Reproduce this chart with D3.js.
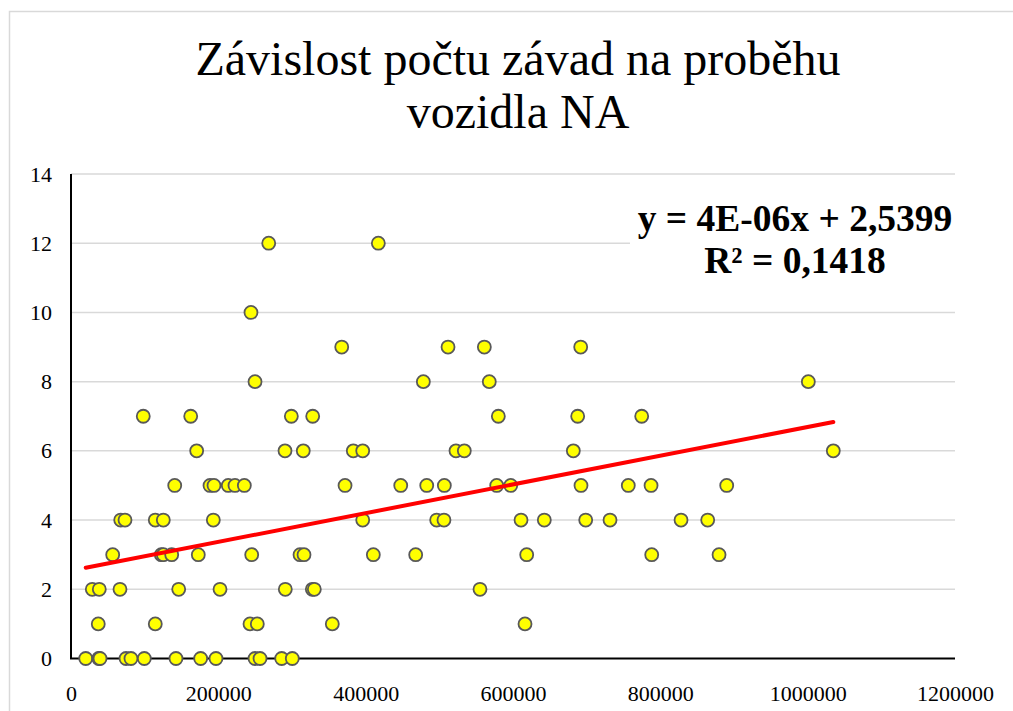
<!DOCTYPE html>
<html>
<head>
<meta charset="utf-8">
<script src="https://cdn.jsdelivr.net/npm/d3@7"></script>
<style>
  body { margin: 0; background: #fff; }
</style>
</head>
<body>
<div id="chart"></div>
<script>
// mileage (km) and number of defects
var mileage = [
  20000, 37600, 39400, 74700, 81400, 99500, 142500, 176000, 196800, 249800, 256600, 286000, 300400,
  37000, 114400, 243000, 252900, 354700, 616300,
  28900, 38400, 66500, 146200, 202300, 290900, 327600, 330300, 555200,
  56600, 122600, 125300, 136700, 172800, 245300, 310900, 316300, 410400, 467900, 618600, 788300, 879700,
  67500, 73300, 114400, 125300, 193200, 396000, 496400, 506300, 610900, 642500, 698700, 731700, 828100, 864300,
  140800, 188700, 194100, 213500, 222600, 235300, 372000, 447600, 482900, 506800, 577900, 596900, 692300, 756500, 787400, 890100,
  170600, 290500, 315300, 383200, 396000, 522600, 533900, 681900, 1034800,
  98100, 162500, 299100, 328100, 580100, 687800, 774700,
  249800, 478300, 567800, 1000900,
  367500, 511800, 561100, 691900,
  244300,
  268400, 417200
];
var defects = [
  0, 0, 0, 0, 0, 0, 0, 0, 0, 0, 0, 0, 0,
  1, 1, 1, 1, 1, 1,
  2, 2, 2, 2, 2, 2, 2, 2, 2,
  3, 3, 3, 3, 3, 3, 3, 3, 3, 3, 3, 3, 3,
  4, 4, 4, 4, 4, 4, 4, 4, 4, 4, 4, 4, 4, 4,
  5, 5, 5, 5, 5, 5, 5, 5, 5, 5, 5, 5, 5, 5, 5, 5,
  6, 6, 6, 6, 6, 6, 6, 6, 6,
  7, 7, 7, 7, 7, 7, 7,
  8, 8, 8, 8,
  9, 9, 9, 9,
  10,
  12, 12
];

var xTicks = [0, 200000, 400000, 600000, 800000, 1000000, 1200000];
var yTicks = [0, 2, 4, 6, 8, 10, 12, 14];

// linear trendline (Excel)
var trendSlope = 4.15e-6;
var trendIntercept = 2.5399;
var trendLabel = ["y = 4E-06x + 2,5399", "R² = 0,1418"];

var titleLines = ["Závislost počtu závad na proběhu", "vozidla NA"];

var serif = "'Liberation Serif', 'Times New Roman', serif";

var svgWidth = 1013;
var svgHeight = 711;

var margin = { top: 174, right: 58, bottom: 52.5, left: 71 };
var width = svgWidth - margin.left - margin.right;
var height = svgHeight - margin.top - margin.bottom;

var data = mileage.map(function(m, i) { return { x: m, y: defects[i] }; });

var svg = d3.select("#chart")
  .append("svg")
  .attr("width", svgWidth)
  .attr("height", svgHeight);

// chart area border
svg.append("rect")
  .attr("x", 9.5)
  .attr("y", 11.5)
  .attr("width", svgWidth + 20)
  .attr("height", svgHeight + 20)
  .attr("fill", "none")
  .attr("stroke", "#d9d9d9")
  .attr("stroke-width", 1.5);

// title
svg.append("text")
  .attr("x", 518)
  .attr("y", 75)
  .attr("text-anchor", "middle")
  .style("font-family", serif)
  .style("font-size", "48px")
  .attr("fill", "#000")
  .selectAll("tspan")
  .data(titleLines)
  .enter()
  .append("tspan")
    .attr("x", 518)
    .attr("dy", (d, i) => i === 0 ? 0 : 53)
    .text(d => d);

var chartGroup = svg.append("g")
  .attr("transform", `translate(${margin.left}, ${margin.top})`);

var xLinearScale = d3.scaleLinear()
  .domain([0, 1200000])
  .range([0, width]);

var yLinearScale = d3.scaleLinear()
  .domain([0, 14])
  .range([height, 0]);

// horizontal gridlines
chartGroup.append("g")
  .selectAll("line")
  .data(yTicks.filter(d => d > 0))
  .enter()
  .append("line")
  .attr("x1", 0)
  .attr("x2", width)
  .attr("y1", d => yLinearScale(d))
  .attr("y2", d => yLinearScale(d))
  .attr("stroke", "#d9d9d9")
  .attr("stroke-width", 1.5);

// axes
var bottomAxis = d3.axisBottom(xLinearScale)
  .tickValues(xTicks)
  .tickSize(0)
  .tickPadding(27)
  .tickFormat(d3.format("d"));

var leftAxis = d3.axisLeft(yLinearScale)
  .tickValues(yTicks)
  .tickSize(0)
  .tickPadding(19)
  .tickFormat(d3.format("d"));

var xAxis = chartGroup.append("g")
  .attr("transform", `translate(0, ${height})`)
  .call(bottomAxis);

var yAxis = chartGroup.append("g")
  .call(leftAxis);

[xAxis, yAxis].forEach(function(ax) {
  ax.select(".domain").remove();
  ax.attr("font-family", null).attr("font-size", null);
  ax.selectAll("text")
    .style("font-family", serif)
    .style("font-size", "22px")
    .attr("fill", "#000");
});

chartGroup.append("line")
  .attr("x1", 0).attr("x2", 0)
  .attr("y1", 0).attr("y2", height)
  .attr("stroke", "#000")
  .attr("stroke-width", 2);

chartGroup.append("line")
  .attr("x1", -1).attr("x2", width)
  .attr("y1", height).attr("y2", height)
  .attr("stroke", "#000")
  .attr("stroke-width", 2);

// points
chartGroup.append("g")
  .selectAll("circle")
  .data(data)
  .enter()
  .append("circle")
  .attr("cx", d => xLinearScale(d.x))
  .attr("cy", d => yLinearScale(d.y))
  .attr("r", 6.5)
  .attr("fill", "#ffff00")
  .attr("stroke", "#595959")
  .attr("stroke-width", 1.8);

// trendline
var xExtent = d3.extent(mileage);
var trend = xExtent.map(x => ({ x: x, y: trendSlope * x + trendIntercept }));

chartGroup.append("path")
  .datum(trend)
  .attr("d", d3.line().x(d => xLinearScale(d.x)).y(d => yLinearScale(d.y)))
  .attr("fill", "none")
  .attr("stroke", "#ff0000")
  .attr("stroke-width", 4)
  .attr("stroke-linecap", "round");

// trendline label
svg.append("rect")
  .attr("x", 630)
  .attr("y", 196)
  .attr("width", 330)
  .attr("height", 92)
  .attr("fill", "#fff");

svg.append("text")
  .attr("text-anchor", "middle")
  .style("font-family", serif)
  .style("font-size", "37.5px")
  .style("font-weight", "bold")
  .attr("fill", "#000")
  .selectAll("tspan")
  .data(trendLabel)
  .enter()
  .append("tspan")
    .attr("x", 795)
    .attr("y", (d, i) => 231 + i * 42)
    .text(d => d);
</script>
</body>
</html>
